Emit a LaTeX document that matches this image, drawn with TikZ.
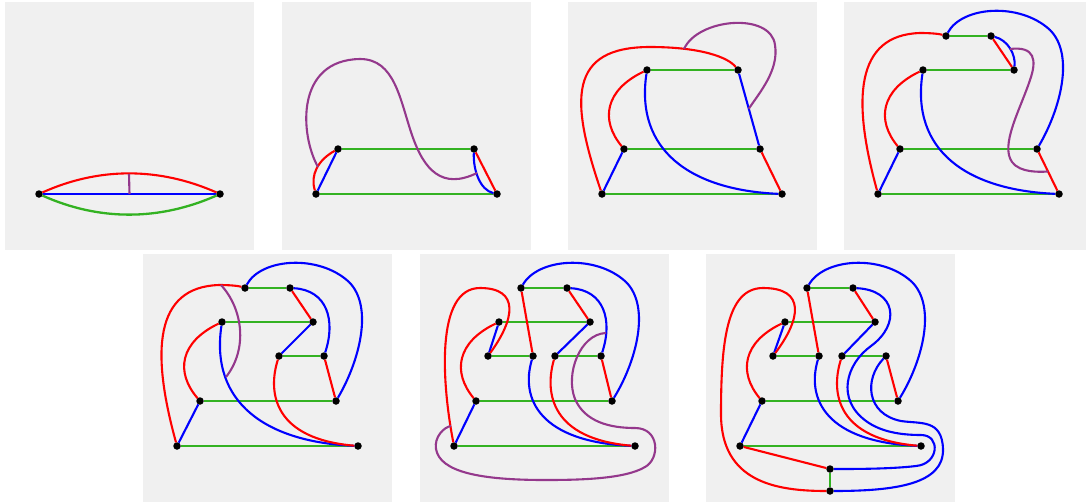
\documentclass[tikz,border=0pt]{standalone}
\usetikzlibrary{calc}

\definecolor{panelgray}{RGB}{240,240,240}
\definecolor{rungreen}{RGB}{51,178,34}
\definecolor{loopviolet}{RGB}{148,56,140}

\begin{document}
\begin{tikzpicture}[
    x=1pt, y=-1pt,
    dot/.style={circle, fill=black, inner sep=0pt, minimum size=7.5pt,
                outer sep=0pt},
    gedge/.style={draw=rungreen, line width=2.3pt},
    redge/.style={draw=red, line width=2.1pt},
    bedge/.style={draw=blue, line width=2.1pt},
    pedge/.style={draw=loopviolet, line width=2.1pt}
  ]
  \useasboundingbox (0,0) rectangle (1086,501);

  % Panel backgrounds
  \foreach \px/\py in {5/2, 282/2, 568/2, 844/2, 143/254, 420/254, 706/254}
    \fill[panelgray] (\px,\py) rectangle ++(249,248);

  % Panel 1
  \begin{scope}[shift={(5,2)}]
    \node[dot] (a1) at (34,192) {};
    \node[dot] (b1) at (215,192) {};
    \draw[redge] (a1) .. controls (94,165) and (154,165) .. (b1);
    \draw[bedge] (a1) -- (b1);
    \draw[gedge] (a1) .. controls (94,219) and (154,219) .. (b1);
    \coordinate (p1a) at (124,172);
    \coordinate (p1b) at ($(a1)!0.5!(b1)$);
    \draw[pedge] (p1a) -- (p1b);
  \end{scope}

  % Panel 2
  \begin{scope}[shift={(282,2)}]
    \foreach \n/\x/\y in {a/34/192, b/215/192, c/56/147, d/192/147}
      \node[dot] (\n2) at (\x,\y) {};
    \draw[gedge] (a2) -- (b2);
    \draw[gedge] (c2) -- (d2);
    \draw[bedge] (a2) -- (c2);
    \draw[redge] (d2) -- (b2);
    \draw[redge] (a2) .. controls (28,173) and (36,158) .. (c2);
    \draw[bedge] (d2) .. controls (191,168) and (198,188) .. (b2);
    \coordinate (p2a) at (36,165);
    \coordinate (p2b) at (195,171);
    \draw[pedge] (p2a) .. controls (18,133) and (13,58) .. (78,57)
      .. controls (113,57) and (118,98) .. (130,133)
      .. controls (142,168) and (160,188) .. (p2b);
  \end{scope}

  % Panel 3
  \begin{scope}[shift={(568,2)}]
    \foreach \n/\x/\y in {a/34/192, b/214/192, c/56/147, d/192/147,
                          e/79/68, f/170/68}
      \node[dot] (\n3) at (\x,\y) {};
    \draw[gedge] (e3) -- (f3);
    \draw[gedge] (c3) -- (d3);
    \draw[gedge] (a3) -- (b3);
    \draw[bedge] (a3) -- (c3);
    \draw[bedge] (f3) -- (d3);
    \draw[redge] (d3) -- (b3);
    \draw[redge] (c3) .. controls (32,118) and (37,88) .. (e3);
    \draw[bedge] (e3) .. controls (67,148) and (122,188) .. (b3);
    \draw[redge] (a3) .. controls (2,98) and (0,45) .. (82,45)
      .. controls (132,45) and (160,55) .. (f3);
    \coordinate (p3a) at (116,47);
    \coordinate (p3b) at ($(f3)!0.49!(d3)$);
    \draw[pedge] (p3a) .. controls (130,16) and (203,10) .. (207,43)
      .. controls (211,68) and (192,90) .. (p3b);
  \end{scope}

  % Panel 4
  \begin{scope}[shift={(844,2)}]
    \foreach \n/\x/\y in {a/34/192, b/215/192, c/56/147, d/193/147,
                          e/79/68, f/170/68, g/102/34, h/147/34}
      \node[dot] (\n4) at (\x,\y) {};
    \draw[gedge] (g4) -- (h4);
    \draw[gedge] (e4) -- (f4);
    \draw[gedge] (c4) -- (d4);
    \draw[gedge] (a4) -- (b4);
    \draw[redge] (h4) -- (f4);
    \draw[redge] (d4) -- (b4);
    \draw[bedge] (a4) -- (c4);
    \draw[bedge] (h4) .. controls (164,38) and (172,53) .. (f4);
    \draw[redge] (c4) .. controls (32,118) and (37,88) .. (e4);
    \draw[bedge] (e4) .. controls (67,148) and (122,188) .. (b4);
    \draw[redge] (a4) .. controls (8,98) and (11,33) .. (76,31)
      .. controls (88,31) and (96,32) .. (g4);
    \draw[bedge] (g4) .. controls (118,4) and (176,0) .. (206,28)
      .. controls (231,53) and (216,108) .. (d4);
    \coordinate (p4a) at (166,47);
    \coordinate (p4b) at ($(d4)!0.5!(b4)$);
    \draw[pedge] (p4a) .. controls (191,44) and (193,58) .. (186,78)
      .. controls (176,108) and (156,143) .. (168,160)
      .. controls (176,171) and (196,170) .. (p4b);
  \end{scope}

  % Panel 5
  \begin{scope}[shift={(143,254)}]
    \foreach \n/\x/\y in {a/34/192, b/215/192, c/57/147, d/193/147,
                          e/79/68, f/170/68, g/102/34, h/147/34,
                          i/136/102, j/181/102}
      \node[dot] (\n5) at (\x,\y) {};
    \draw[gedge] (g5) -- (h5);
    \draw[gedge] (e5) -- (f5);
    \draw[gedge] (i5) -- (j5);
    \draw[gedge] (c5) -- (d5);
    \draw[gedge] (a5) -- (b5);
    \draw[redge] (h5) -- (f5);
    \draw[redge] (j5) -- (d5);
    \draw[bedge] (f5) -- (i5);
    \draw[bedge] (a5) -- (c5);
    \draw[redge] (c5) .. controls (32,118) and (37,88) .. (e5);
    \draw[bedge] (e5) .. controls (67,148) and (122,188) .. (b5);
    \draw[redge] (i5) .. controls (124,140) and (132,185) .. (b5);
    \draw[bedge] (h5) .. controls (184,36) and (193,66) .. (j5);
    \draw[redge] (a5) .. controls (8,98) and (11,33) .. (76,31)
      .. controls (88,31) and (96,32) .. (g5);
    \draw[bedge] (g5) .. controls (118,4) and (176,0) .. (206,28)
      .. controls (231,53) and (216,108) .. (d5);
    \coordinate (p5a) at (78,31);
    \coordinate (p5b) at (83,123);
    \draw[pedge] (p5a) .. controls (100,55) and (105,95) .. (p5b);
  \end{scope}

  % Panel 6
  \begin{scope}[shift={(420,254)}]
    \foreach \n/\x/\y in {a/34/192, b/215/192, c/56/147, d/192/147,
                          e/79/68, f/170/68, g/101/34, h/147/34,
                          k/68/102, l/113/102, i/135/102, j/181/102}
      \node[dot] (\n6) at (\x,\y) {};
    \draw[gedge] (g6) -- (h6);
    \draw[gedge] (e6) -- (f6);
    \draw[gedge] (k6) -- (l6);
    \draw[gedge] (i6) -- (j6);
    \draw[gedge] (c6) -- (d6);
    \draw[gedge] (a6) -- (b6);
    \draw[redge] (h6) -- (f6);
    \draw[redge] (j6) -- (d6);
    \draw[redge] (g6) -- (l6);
    \draw[bedge] (f6) -- (i6);
    \draw[bedge] (a6) -- (c6);
    \draw[bedge] (e6) -- (k6);
    \draw[redge] (c6) .. controls (32,118) and (37,88) .. (e6);
    \draw[bedge] (l6) .. controls (100,145) and (120,188) .. (b6);
    \draw[redge] (i6) .. controls (124,140) and (132,185) .. (b6);
    \draw[bedge] (h6) .. controls (184,36) and (193,66) .. (j6);
    \draw[bedge] (g6) .. controls (118,4) and (176,0) .. (206,28)
      .. controls (231,53) and (216,108) .. (d6);
    \draw[redge] (a6) .. controls (22,130) and (15,34) .. (60,34)
      .. controls (100,34) and (95,65) .. (k6);
    \coordinate (p6a) at (31,172);
    \coordinate (p6b) at (186,79);
    \draw[pedge] (p6b) .. controls (160,80) and (145,120) .. (155,145)
      .. controls (165,168) and (190,174) .. (215,174)
      .. controls (240,174) and (240,205) .. (225,213)
      .. controls (205,225) and (160,226) .. (125,226)
      .. controls (60,226) and (20,218) .. (16,195)
      .. controls (14,183) and (24,173) .. (p6a);
  \end{scope}

  % Panel 7
  \begin{scope}[shift={(706,254)}]
    \foreach \n/\x/\y in {a/34/192, b/215/192, c/56/147, d/192/147,
                          e/79/68, f/169/68, g/101/34, h/147/34,
                          k/67/102, l/113/102, i/136/102, j/180/102,
                          m/124/215, n/124/237}
      \node[dot] (\n7) at (\x,\y) {};
    \draw[gedge] (g7) -- (h7);
    \draw[gedge] (e7) -- (f7);
    \draw[gedge] (k7) -- (l7);
    \draw[gedge] (i7) -- (j7);
    \draw[gedge] (c7) -- (d7);
    \draw[gedge] (a7) -- (b7);
    \draw[gedge] (m7) -- (n7);
    \draw[redge] (h7) -- (f7);
    \draw[redge] (j7) -- (d7);
    \draw[redge] (g7) -- (l7);
    \draw[redge] (a7) -- (m7);
    \draw[bedge] (f7) -- (i7);
    \draw[bedge] (a7) -- (c7);
    \draw[bedge] (e7) -- (k7);
    \draw[redge] (c7) .. controls (32,118) and (37,88) .. (e7);
    \draw[bedge] (l7) .. controls (100,145) and (120,188) .. (b7);
    \draw[redge] (i7) .. controls (124,140) and (132,185) .. (b7);
    \draw[bedge] (g7) .. controls (118,4) and (176,0) .. (206,28)
      .. controls (231,53) and (216,108) .. (d7);
    \draw[redge] (n7) .. controls (70,237) and (15,228) .. (15,160)
      .. controls (15,90) and (20,34) .. (57,34)
      .. controls (100,34) and (95,65) .. (k7);
    \draw[bedge] (h7) .. controls (190,36) and (195,70) .. (165,92)
      .. controls (140,110) and (130,145) .. (160,167)
      .. controls (175,178) and (195,181) .. (215,181)
      .. controls (235,181) and (233,210) .. (210,212)
      .. controls (185,215) and (150,215) .. (m7);
    \draw[bedge] (j7) .. controls (158,125) and (160,160) .. (195,167)
      .. controls (215,170) and (236,165) .. (237,195)
      .. controls (238,230) and (190,237) .. (n7);
  \end{scope}
\end{tikzpicture}
\end{document}
